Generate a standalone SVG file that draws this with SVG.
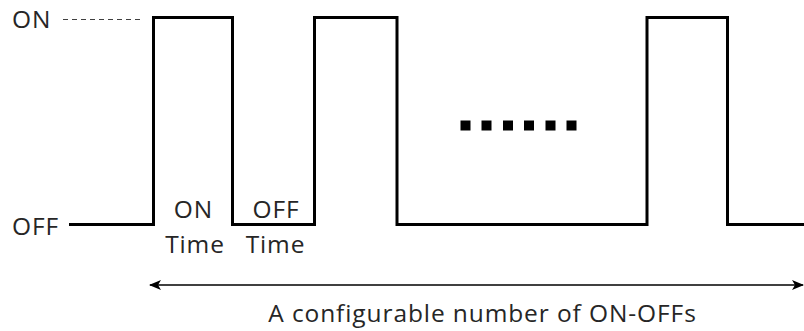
<svg xmlns="http://www.w3.org/2000/svg" width="804" height="331" viewBox="0 0 804 331">
  <style>
    .lbl { font-family: "Open Sans", "Liberation Sans", sans-serif; font-size: 24.5px; letter-spacing: 0.9px; fill: #262626; }
    .wave { fill: none; stroke: #000; stroke-width: 3; stroke-linejoin: miter; }
    .ref { stroke: #404040; stroke-width: 1.2; stroke-dasharray: 5 4; }
    .span { stroke: #000; stroke-width: 1.5; }
    .dot { fill: #000; }
  </style>
  <defs>
    <marker id="head" viewBox="0 0 12 10" refX="11" refY="5" markerWidth="12" markerHeight="10" markerUnits="userSpaceOnUse" orient="auto-start-reverse">
      <path d="M0,0 L12,5 L0,10 L3,5 Z" fill="#000"/>
    </marker>
  </defs>

  <!-- level labels -->
  <g id="level-on">
    <text class="lbl" x="12" y="28">ON</text>
    <line class="ref" x1="63" y1="19.5" x2="140" y2="19.5"/>
  </g>
  <g id="level-off">
    <text class="lbl" x="12" y="235">OFF</text>
  </g>

  <!-- pulse train -->
  <g id="signal">
    <path class="wave" d="M69,224.5 H153.5 V17.5 H232.5 V224.5 H314.5 V17.5 H397 V224.5 H647 V17.5 H727.5 V224.5 H804"/>
  </g>

  <!-- ellipsis between pulses -->
  <g id="ellipsis">
    <rect class="dot" x="460.5" y="120.5" width="10" height="10"/>
    <rect class="dot" x="481.5" y="120.5" width="10" height="10"/>
    <rect class="dot" x="503" y="120.5" width="10" height="10"/>
    <rect class="dot" x="524" y="120.5" width="10" height="10"/>
    <rect class="dot" x="545.5" y="120.5" width="10" height="10"/>
    <rect class="dot" x="566.5" y="120.5" width="10" height="10"/>
  </g>

  <!-- time labels -->
  <g id="on-time">
    <text class="lbl" x="193.5" y="218" text-anchor="middle">ON</text>
    <text class="lbl" x="195" y="253" text-anchor="middle">Time</text>
  </g>
  <g id="off-time">
    <text class="lbl" x="276" y="218" text-anchor="middle">OFF</text>
    <text class="lbl" x="275.5" y="253" text-anchor="middle">Time</text>
  </g>

  <!-- span arrow -->
  <g id="connectors">
    <line class="span" x1="150" y1="285" x2="803" y2="285" marker-start="url(#head)" marker-end="url(#head)"/>
  </g>
  <g id="span-label">
    <text class="lbl" x="482.5" y="322" text-anchor="middle">A configurable number of ON-OFFs</text>
  </g>
</svg>
